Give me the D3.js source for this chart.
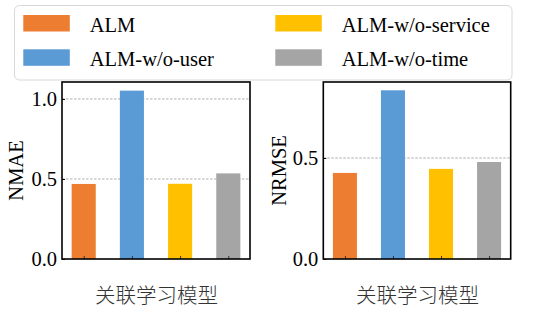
<!DOCTYPE html>
<html><head><meta charset="utf-8">
<script src="https://cdn.jsdelivr.net/npm/d3@7"></script>
<style>
html,body{margin:0;padding:0;background:#fff;}
svg{display:block;}
</style></head>
<body><svg id="c" width="541" height="315"></svg>
<script>
const models = ["ALM", "ALM-w/o-user", "ALM-w/o-service", "ALM-w/o-time"];
const colors = ["#ED7D31", "#5B9BD5", "#FFC000", "#A5A5A5"];
const nmae = [0.469, 1.052, 0.470, 0.535];
const nrmse = [0.426, 0.835, 0.446, 0.480];
const nmaeTicks = [0.0, 0.5, 1.0];
const nrmseTicks = [0.0, 0.5];
const xLabel = "关联学习模型";

const svg = d3.select("#c");
const serif = "'Liberation Serif','Times New Roman',serif";
const cjk = "'Noto Sans CJK SC','Noto Sans',sans-serif";

function panel(x0, x1, y0, y1, values, ymax, ticks, ylab, ylabX) {
  const g = svg.append("g");
  const x = d3.scaleLinear().domain([-0.45, 3.45]).range([x0, x1]);
  const y = d3.scaleLinear().domain([0, ymax]).range([y1, y0]);
  g.selectAll("line.grid").data(ticks.filter(t => t > 0)).join("line")
    .attr("x1", x0).attr("x2", x1)
    .attr("y1", d => y(d)).attr("y2", d => y(d))
    .attr("stroke", "#9a9a9a").attr("stroke-width", 0.8)
    .attr("stroke-dasharray", "2.5,1.5");
  g.selectAll("rect.bar").data(values).join("rect")
    .attr("x", (d, i) => x(i - 0.25))
    .attr("width", x(0.5) - x(0))
    .attr("y", d => y(d))
    .attr("height", d => y(0) - y(d))
    .attr("fill", (d, i) => colors[i]);
  const ay = g.append("g").attr("transform", `translate(${x0},0)`)
    .call(d3.axisLeft(y).tickValues(ticks).tickFormat(d3.format(".1f")).tickSize(-3).tickPadding(5));
  ay.select(".domain").remove();
  ay.selectAll("line").attr("stroke", "#000");
  ay.selectAll("text").attr("font-family", serif).attr("font-size", 20.5).attr("fill", "#000");
  const ax = g.append("g").attr("transform", `translate(0,${y1})`)
    .call(d3.axisBottom(x).tickValues([0,1,2,3]).tickFormat("").tickSize(-3));
  ax.select(".domain").remove();
  ax.selectAll("line").attr("stroke", "#333");
  g.append("rect").attr("x", x0).attr("y", y0).attr("width", x1 - x0).attr("height", y1 - y0)
    .attr("fill", "none").attr("stroke", "#000").attr("stroke-width", 1.6);
  g.append("text").attr("transform", `translate(${ylabX},${(y0 + y1) / 2}) rotate(-90)`)
    .attr("text-anchor", "middle").attr("dominant-baseline", "central")
    .attr("font-family", serif).attr("font-size", 20.5).text(ylab);
  g.append("text").attr("x", (x0 + x1) / 2 + 0.5).attr("y", 303)
    .attr("text-anchor", "middle").attr("font-family", cjk).attr("font-size", 20.5)
    .attr("font-weight", 300).attr("fill", "#333").text(xLabel);
}

panel(62, 250, 82, 259, nmae, 1.106, nmaeTicks, "NMAE", 16);
panel(323.3, 510.7, 82, 259, nrmse, 0.876, nrmseTicks, "NRMSE", 279);

const lg = svg.append("g");
lg.append("rect").attr("x", 14.5).attr("y", 5.5).attr("width", 497.5).attr("height", 74.5)
  .attr("rx", 5).attr("fill", "rgba(255,255,255,0.85)").attr("stroke", "#d8d8d8").attr("stroke-width", 1);
const pos = [[23.3, 15], [23.3, 49.3], [275.3, 15], [275.3, 49.3]];
models.forEach((m, i) => {
  const [px, py] = pos[i];
  lg.append("rect").attr("x", px).attr("y", py).attr("width", 46.5).attr("height", 16.5).attr("fill", colors[i]);
  lg.append("text").attr("x", px + 66.5).attr("y", py + 16.5)
    .attr("font-family", serif).attr("font-size", 20.5).attr("fill", "#000").text(m);
});
</script></body></html>
